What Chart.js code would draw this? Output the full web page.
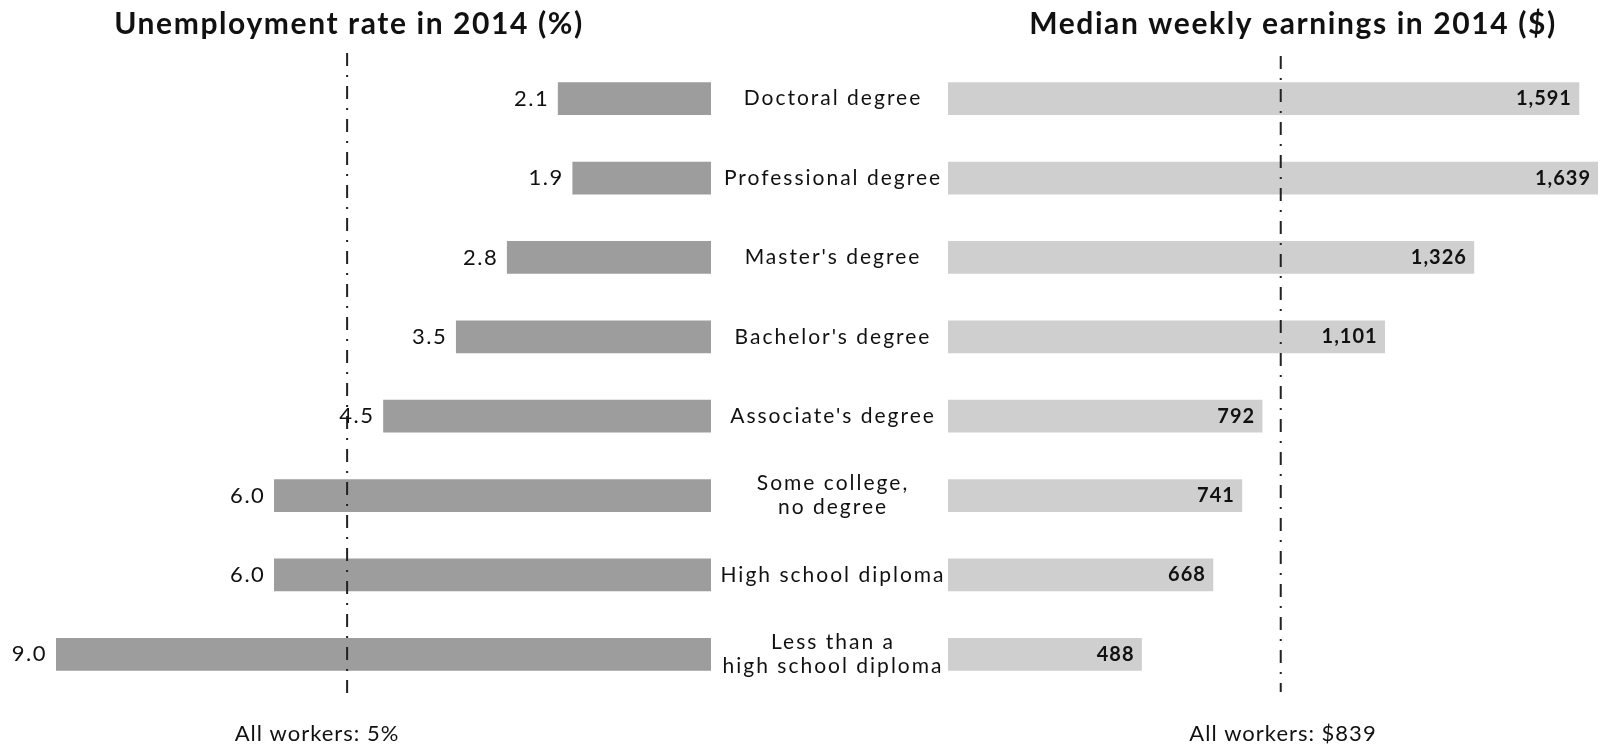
<!DOCTYPE html>
<html><head><meta charset="utf-8">
<script src="https://cdn.jsdelivr.net/npm/chart.js@4/dist/chart.umd.min.js"></script>
<style>
html,body{margin:0;padding:0;background:#fff;}
#wrap{position:relative;width:1600px;height:749px;}
canvas{position:absolute;left:0;top:0;}
</style></head><body>
<div id="wrap"><canvas id="cL" width="1600" height="749"></canvas><canvas id="cR" width="1600" height="749"></canvas></div>
<script>
const categories = [["Doctoral degree"],["Professional degree"],["Master's degree"],["Bachelor's degree"],["Associate's degree"],["Some college,","no degree"],["High school diploma"],["Less than a","high school diploma"]];
const unemployment = [2.1, 1.9, 2.8, 3.5, 4.5, 6.0, 6.0, 9.0];
const earnings = [1591, 1639, 1326, 1101, 792, 741, 668, 488];
const allWorkersUnemp = 5;
const allWorkersEarn = 839;
const titles = ["Unemployment rate in 2014 (%)", "Median weekly earnings in 2014 ($)"];
const refLabels = ["All workers: 5%", "All workers: $839"];

const FONT = "Lato, 'Open Sans', sans-serif";
const TEXT = "#111";

function dashDot(ctx, x, y0, y1){
  ctx.save();
  ctx.strokeStyle = "#222";
  ctx.lineWidth = 2;
  ctx.setLineDash([13, 9, 2, 9]);
  ctx.beginPath(); ctx.moveTo(x, y0); ctx.lineTo(x, y1); ctx.stroke();
  ctx.restore();
}
function setFont(ctx, f, sp){ ctx.font = f; ctx.letterSpacing = sp + "px"; }

const leftPlugin = {
  id: 'leftDeco',
  afterDatasetsDraw(chart){
    const ctx = chart.ctx, xs = chart.scales.x, ys = chart.scales.y;
    const meta = chart.getDatasetMeta(0);
    const rx = xs.getPixelForValue(allWorkersUnemp);
    dashDot(ctx, rx, chart.chartArea.top - 6, chart.chartArea.bottom + 6);
    ctx.save();
    ctx.fillStyle = TEXT;
    setFont(ctx, "22px " + FONT, 1.5);
    ctx.textAlign = "right"; ctx.textBaseline = "middle";
    meta.data.forEach((bar, i) => {
      ctx.fillText(unemployment[i].toFixed(1), bar.x - 9, bar.y);
    });
    setFont(ctx, "21px " + FONT, 2);
    ctx.textAlign = "center";
    categories.forEach((lines, i) => {
      const y = ys.getPixelForValue(i);
      const cx = 833, lh = 24;
      lines.forEach((t, k) => ctx.fillText(t, cx, y + (k - (lines.length - 1) / 2) * lh));
    });
    setFont(ctx, "bold 30px " + FONT, 1.6);
    ctx.fillText(titles[0], 349, 24);
    setFont(ctx, "22px " + FONT, 1);
    ctx.fillText(refLabels[0], 317, 734);
    ctx.restore();
  }
};

const rightPlugin = {
  id: 'rightDeco',
  afterDatasetsDraw(chart){
    const ctx = chart.ctx, xs = chart.scales.x;
    const meta = chart.getDatasetMeta(0);
    const rx = xs.getPixelForValue(allWorkersEarn);
    dashDot(ctx, rx, chart.chartArea.top - 3, chart.chartArea.bottom - 2);
    ctx.save();
    ctx.fillStyle = TEXT;
    setFont(ctx, "bold 20px " + FONT, 1);
    ctx.textAlign = "right"; ctx.textBaseline = "middle";
    meta.data.forEach((bar, i) => {
      ctx.fillText(earnings[i].toLocaleString('en-US'), bar.x - 7, bar.y);
    });
    ctx.textAlign = "center";
    setFont(ctx, "bold 30px " + FONT, 1.6);
    ctx.fillText(titles[1], 1293, 24);
    setFont(ctx, "22px " + FONT, 1);
    ctx.fillText(refLabels[1], 1283, 734);
    ctx.restore();
  }
};

const common = {
  indexAxis: 'y',
  responsive: false,
  animation: false,
  plugins: { legend: { display: false }, tooltip: { enabled: false } },
};

new Chart(document.getElementById('cL'), {
  type: 'bar',
  data: { labels: categories.map(c => c.join(' ')), datasets: [{ data: unemployment, backgroundColor: '#9d9d9d', barThickness: 32 }] },
  options: Object.assign({}, common, {
    layout: { padding: { left: 56, right: 1600 - 711, top: 59, bottom: 749 - 694 } },
    scales: {
      x: { display: false, min: 0, max: 9, reverse: true },
      y: { display: false }
    }
  }),
  plugins: [leftPlugin]
});

new Chart(document.getElementById('cR'), {
  type: 'bar',
  data: { labels: categories.map(c => c.join(' ')), datasets: [{ data: earnings, backgroundColor: '#cfcfcf', barThickness: 32 }] },
  options: Object.assign({}, common, {
    layout: { padding: { left: 948, right: 2, top: 59, bottom: 749 - 694 } },
    scales: {
      x: { display: false, min: 0, max: 1639 },
      y: { display: false }
    }
  }),
  plugins: [rightPlugin]
});
</script>
</body></html>
